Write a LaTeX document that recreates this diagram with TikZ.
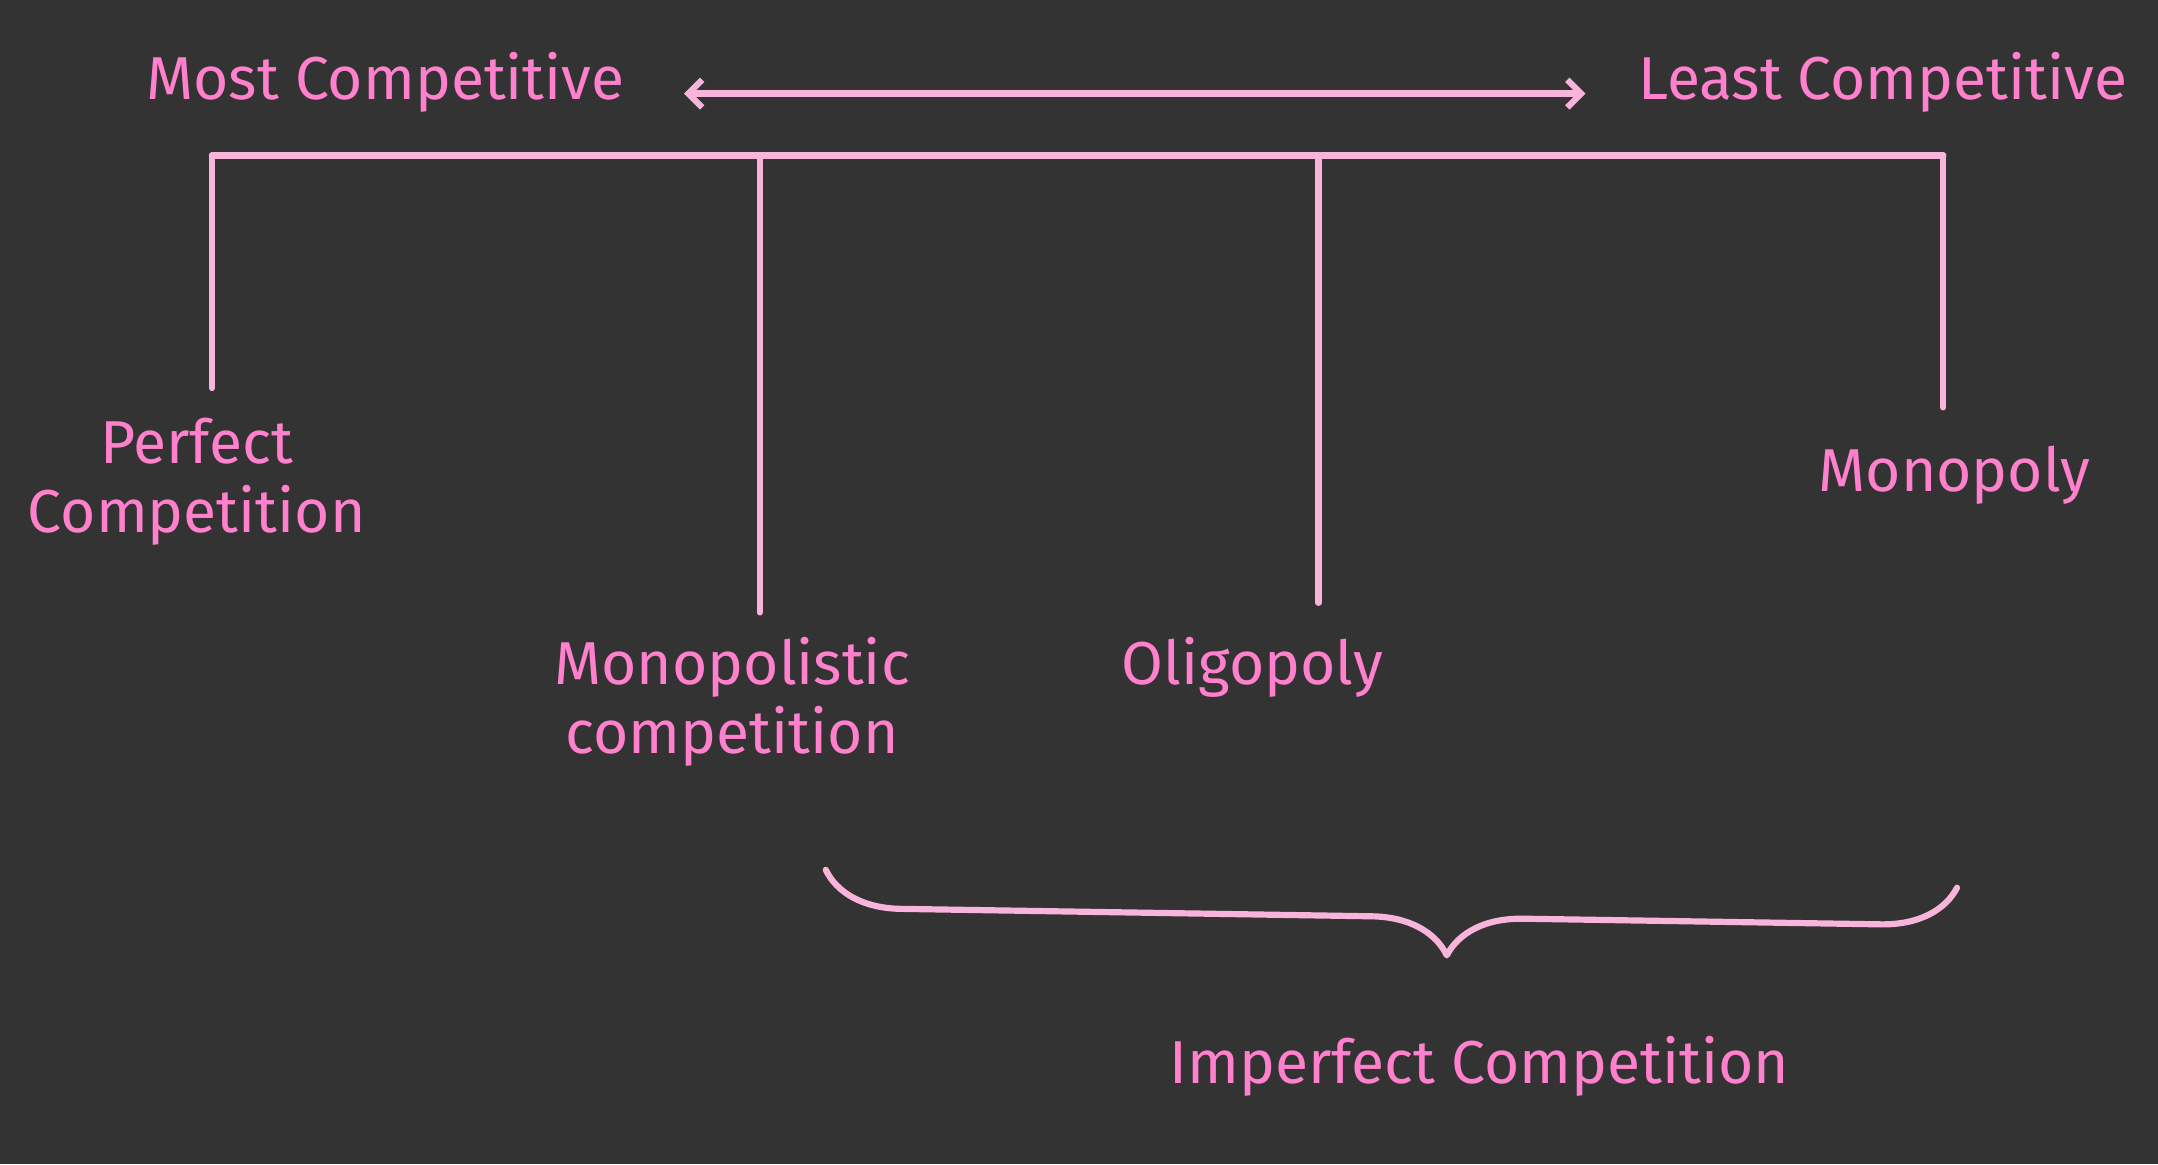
\documentclass[tikz,border=0pt]{standalone}
\usepackage{fontspec}
\setmainfont{Fira Sans}
\usetikzlibrary{arrows.meta,decorations.pathreplacing}
\definecolor{bg}{HTML}{333333}
\definecolor{ln}{HTML}{F8B4DA}
\definecolor{tx}{HTML}{FF80CC}
\begin{document}
\begin{tikzpicture}[x=1pt,y=-1pt,
  lbl/.style={text=tx,font=\fontsize{44}{50}\selectfont,align=center,inner sep=0pt},
  wire/.style={draw=ln,line width=4.5pt,line cap=round,line join=round}]
\fill[bg] (0,0) rectangle (1568,846);
\useasboundingbox (0,0) rectangle (1568,846);
\node[lbl] (most) at (280,60) {Most Competitive};
\node[lbl] (least) at (1368,60) {Least Competitive};
\coordinate (al) at (497,68); \coordinate (ar) at (1152,68);
\draw[wire,{Straight Barb[length=10pt,width=20pt]}-{Straight Barb[length=10pt,width=20pt]}] (al) -- (ar);
\coordinate (h1) at (154,113); \coordinate (h2) at (552,113);
\coordinate (h3) at (958,113); \coordinate (h4) at (1412,113);
\draw[wire] (h1) -- (h4);
\coordinate (e1) at (154,282); \coordinate (e2) at (552,445);
\coordinate (e3) at (958,438); \coordinate (e4) at (1412,296);
\draw[wire] (h1)--(e1) (h2)--(e2) (h3)--(e3) (h4)--(e4);
\node[lbl] (perf) at (143,350) {Perfect\\Competition};
\node[lbl] (mono) at (532,510) {Monopolistic\\competition};
\node[lbl] (olig) at (910,485) {Oligopoly};
\node[lbl] (monop) at (1420,345) {Monopoly};
\coordinate (b1) at (600,632); \coordinate (b2) at (1422,645);
\draw[wire,decorate,decoration={brace,mirror,amplitude=55pt,aspect=0.55}] (b1) -- (b2);
\node[lbl] (imp) at (1075,775) {Imperfect Competition};
\end{tikzpicture}
\end{document}
